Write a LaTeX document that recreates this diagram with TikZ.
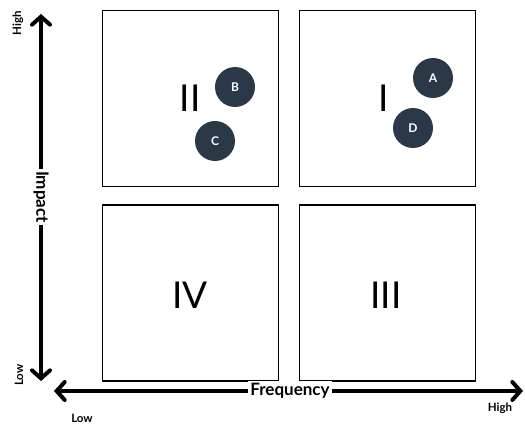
\documentclass[tikz,border=0pt]{standalone}
\usepackage{fontspec}
\setmainfont{Lato}
\usetikzlibrary{arrows.meta}
\definecolor{navy}{HTML}{2B3848}
\begin{document}
\begin{tikzpicture}[x=1pt,y=-1pt,
  quad/.style={draw, line width=1.6pt, minimum width=176pt, minimum height=176pt, inner sep=0pt},
  numeral/.style={font=\fontsize{37}{37}\selectfont},
  dot/.style={circle, fill=navy, minimum size=40pt, inner sep=0pt, text=white, font=\bfseries\fontsize{12}{12}\selectfont},
  axis/.style={line width=4pt, {Straight Barb[length=8pt,width=18pt,line width=4pt,line cap=round]}-{Straight Barb[length=8pt,width=18pt,line width=4pt,line cap=round]}},
  axlabel/.style={fill=white, inner sep=2pt, font=\bfseries\fontsize{17}{17}\selectfont},
  endlabel/.style={font=\bfseries\fontsize{11.5}{11.5}\selectfont}
]
\useasboundingbox (0,0) rectangle (525,425);

% quadrants
\node[quad] (q2) at (190.5,98.5) {};
\node[quad] (q1) at (387.5,98.5) {};
\node[quad] (q4) at (190.5,293) {};
\node[quad] (q3) at (387.5,293) {};

\node[numeral] (n2) at (190,98) {II};
\node[numeral] (n1) at (384,98) {I};
\node[numeral] (n4) at (190,295) {IV};
\node[numeral] (n3) at (386,295) {III};

% items
\node[dot] (b) at (235,87) {B};
\node[dot] (c) at (215,141) {C};
\node[dot] (a) at (433,78) {A};
\node[dot] (d) at (413,128) {D};

% axes
\coordinate (ytop) at (41,14);
\coordinate (ybot) at (41,381);
\coordinate (xleft) at (54,391);
\coordinate (xright) at (523,391);
\draw[axis] (ybot) -- (ytop);
\draw[axis] (xleft) -- (xright);

\node[axlabel, rotate=-90] (impact) at (41,197) {Impact};
\node[axlabel] (freq) at (290,391) {Frequency};

\node[endlabel, rotate=90] (yhigh) at (18,23) {High};
\node[endlabel, rotate=90] (ylow) at (19,375) {Low};
\node[endlabel] (xlow) at (82,418) {Low};
\node[endlabel] (xhigh) at (500,408) {High};
\end{tikzpicture}
\end{document}
